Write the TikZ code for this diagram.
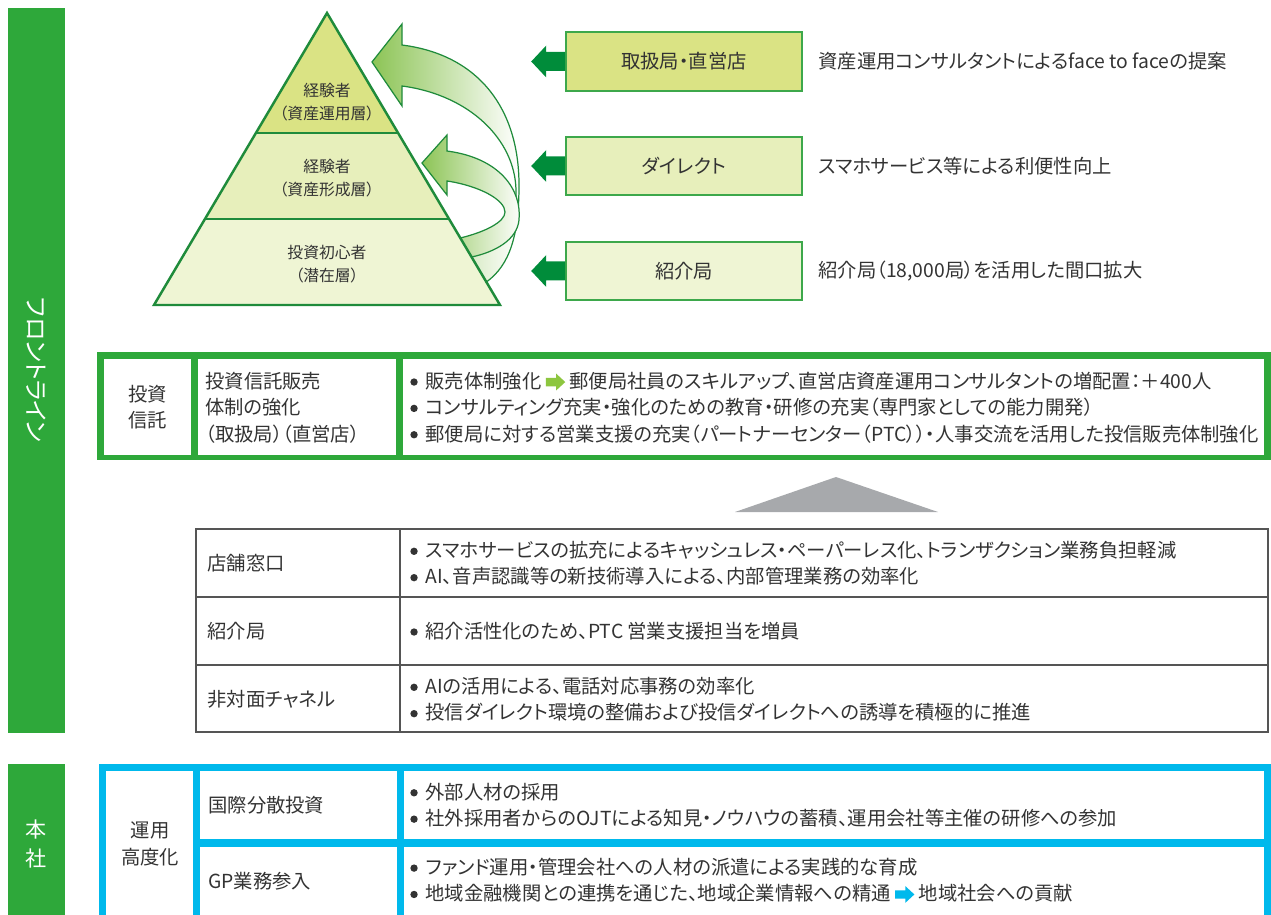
\documentclass[tikz,border=0pt]{standalone}
\usepackage{fontspec}
\setmainfont{Noto Sans CJK JP}[RawFeature={+palt}]
\definecolor{bargreen}{HTML}{2EA83A}
\definecolor{darkgreen}{HTML}{008C3A}
\definecolor{pyrline}{HTML}{1F8B3B}
\definecolor{layA}{HTML}{DAE384}
\definecolor{layB}{HTML}{E7EFBB}
\definecolor{layC}{HTML}{EFF5D4}
\definecolor{boxline}{HTML}{3DA84B}
\definecolor{arrgreen}{HTML}{8CC455}
\definecolor{lightarr}{HTML}{8DC63F}
\definecolor{txtc}{HTML}{333333}
\definecolor{tricol}{HTML}{A7A9AC}
\definecolor{cyanb}{HTML}{00B9EC}
\definecolor{tline}{HTML}{555555}
\newcommand{\fsm}{\fontsize{11}{15}\selectfont}
\newcommand{\fpy}{\fontsize{9}{13}\selectfont}
\newcommand{\inarrow}[1]{\tikz[x=1pt,y=1pt,baseline=-3.6pt]\fill[#1] (0,-2.4)--(5.8,-2.4)--(5.8,-4.8)--(11,0)--(5.8,4.8)--(5.8,2.4)--(0,2.4)--cycle;}
\newcommand{\bul}{\tikz[x=1pt,y=1pt,baseline=-3.6pt]\fill[txtc] (0,0) circle (2.1);\hspace{4.5pt}}
\tikzset{
  txt/.style={text=txtc, font=\fsm, inner sep=0pt},
  lbl/.style={txt, anchor=west, align=left},
  pytxt/.style={text=txtc, font=\fpy, inner sep=0pt, align=center},
  chbox/.style={draw=boxline, line width=0.9pt, minimum width=4.72cm, minimum height=1.17cm, text=txtc, font=\fsm, inner sep=0pt},
  leftarr/.style={fill=darkgreen},
  curvarr/.style={draw=pyrline, line width=0.7pt, shading=axis, left color=arrgreen, right color=white},
  barlbl/.style={text=white, font=\fontsize{12}{16}\selectfont, inner sep=0pt, align=center}
}
\begin{document}
\begin{tikzpicture}[x=0.02cm, y=-0.02cm]
\useasboundingbox (0,0) rectangle (1271,915);

% left bars
\fill[bargreen] (8,8) rectangle (65,733);
\node[barlbl, font=\fontsize{13.5}{16}\selectfont, rotate=-90] (front) at (36.5,370) {フロントライン};
\fill[bargreen] (8,764) rectangle (65,915);
\node[barlbl] (honsha) at (36.5,844) {本\\社};

% pyramid fills
\fill[layC] (327,13)--(500,305)--(154,305)--cycle;
\fill[layB] (327,13)--(449.05,219)--(204.95,219)--cycle;
\fill[layA] (327,13)--(398.1,133)--(255.9,133)--cycle;

% curved arrows
\path[curvarr] (372,62) -- (402,24) -- (402,45) .. controls (480,55) and (519,110) .. (519,185) .. controls (519,235) and (510,265) .. (486.4,282) -- (471.6,257) .. controls (505,245) and (517,225) .. (516,190) .. controls (515,140) and (470,95) .. (402,86) -- (402,106) -- cycle;
\path[curvarr] (422,163) -- (447,135) -- (447,151) .. controls (500,158) and (522,190) .. (519,220) .. controls (517,240) and (495,252) .. (471.6,257) -- (460.3,238) .. controls (485,232) and (505,222) .. (505,212) .. controls (505,200) and (480,186) .. (447,181) -- (447,195) -- cycle;

% pyramid outline
\draw[pyrline, line width=1.4pt] (327,13)--(500,305)--(154,305)--cycle;
\draw[pyrline, line width=1.4pt] (204.95,219)--(449.05,219);
\draw[pyrline, line width=1.4pt] (255.9,133)--(398.1,133);

\node[pytxt] (py1) at (327,102) {経験者\\（資産運用層）};
\node[pytxt] (py2) at (327,178) {経験者\\（資産形成層）};
\node[pytxt] (py3) at (327,264) {投資初心者\\（潜在層）};

% channel boxes
\node[chbox, fill=layA] (b1) at (684,61.5) {取扱局・直営店};
\node[chbox, fill=layB] (b2) at (684,166) {ダイレクト};
\node[chbox, fill=layC] (b3) at (684,271) {紹介局};
\foreach \b in {b1,b2,b3}{
  \fill[leftarr] ([shift={(0,-9.5)}]\b.west) -- ([shift={(-19,-9.5)}]\b.west) -- ([shift={(-19,-16)}]\b.west) -- ([shift={(-34,0)}]\b.west) -- ([shift={(-19,16)}]\b.west) -- ([shift={(-19,9.5)}]\b.west) -- ([shift={(0,9.5)}]\b.west) -- cycle;
}
\node[lbl] (d1) at (818,61.5) {資産運用コンサルタントによるface to faceの提案};
\node[lbl] (d2) at (818,166) {スマホサービス等による利便性向上};
\node[lbl] (d3) at (818,271) {紹介局（18,000局）を活用した間口拡大};

% investment trust table
\fill[bargreen] (97,352) rectangle (1271,460);
\fill[white] (104,359) rectangle (191,455);
\fill[white] (198,359) rectangle (396,455);
\fill[white] (403,359) rectangle (1264,455);
\node[txt, align=center] (it1) at (147.5,407) {投資\\信託};
\node[lbl] (it2) at (205,407.5) {投資信託販売\\体制の強化\\（取扱局）（直営店）};
\node[lbl] (it3) at (410,407.5) {\bul 販売体制強化 \inarrow{lightarr} 郵便局社員のスキルアップ、直営店資産運用コンサルタントの増配置：＋400人\\\bul コンサルティング充実・強化のための教育・研修の充実（専門家としての能力開発）\\\bul 郵便局に対する営業支援の充実（パートナーセンター（PTC））・人事交流を活用した投信販売体制強化};

% gray triangle
\fill[tricol] (836,477) -- (938,512) -- (735,512) -- cycle;

% lower table
\draw[tline, line width=0.7pt] (196,529) rectangle (1268,732);
\draw[tline, line width=0.7pt] (196,597) -- (1268,597);
\draw[tline, line width=0.7pt] (196,665) -- (1268,665);
\draw[tline, line width=0.7pt] (400,529) -- (400,732);
\node[lbl] (r1) at (207,563) {店舗窓口};
\node[lbl] (r2) at (207,631) {紹介局};
\node[lbl] (r3) at (207,699) {非対面チャネル};
\node[lbl] (r1b) at (410,563.5) {\bul スマホサービスの拡充によるキャッシュレス・ペーパーレス化、トランザクション業務負担軽減\\\bul AI、音声認識等の新技術導入による、内部管理業務の効率化};
\node[lbl] (r2b) at (410,631) {\bul 紹介活性化のため、PTC 営業支援担当を増員};
\node[lbl] (r3b) at (410,699.5) {\bul AIの活用による、電話対応事務の効率化\\\bul 投信ダイレクト環境の整備および投信ダイレクトへの誘導を積極的に推進};

% head office table
\fill[cyanb] (99,764) rectangle (1271,915);
\fill[white] (106,771) rectangle (193,915);
\fill[white] (200,771) rectangle (397,839);
\fill[white] (404,771) rectangle (1264,839);
\fill[white] (200,847) rectangle (397,915);
\fill[white] (404,847) rectangle (1264,915);
\node[txt, align=center] (h1) at (150,844) {運用\\高度化};
\node[lbl] (h2) at (208,805) {国際分散投資};
\node[lbl] (h3) at (208,881) {GP業務参入};
\node[lbl] (h2b) at (410,805) {\bul 外部人材の採用\\\bul 社外採用者からのOJTによる知見・ノウハウの蓄積、運用会社等主催の研修への参加};
\node[lbl] (h3b) at (410,880.5) {\bul ファンド運用・管理会社への人材の派遣による実践的な育成\\\bul 地域金融機関との連携を通じた、地域企業情報への精通 \inarrow{cyanb} 地域社会への貢献};
\end{tikzpicture}
\end{document}
